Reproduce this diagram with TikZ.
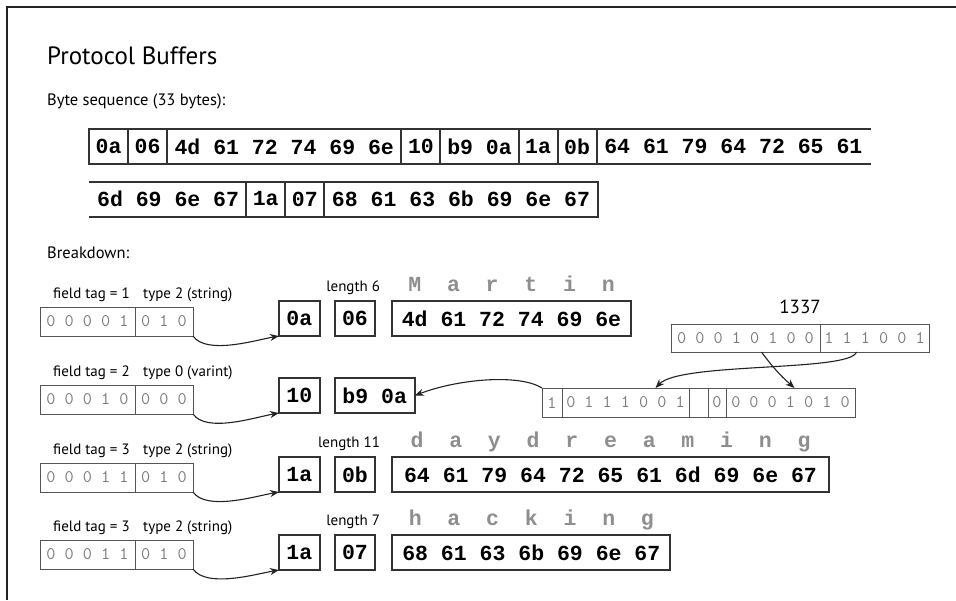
\documentclass[tikz,border=0pt]{standalone}
\usepackage{fontspec}
\setmainfont{PT Sans}
\newfontfamily\hexfamily{Liberation Mono}
\usetikzlibrary{arrows.meta,positioning}

\definecolor{framegray}{HTML}{222222}
\definecolor{boxgray}{HTML}{333333}
\definecolor{bitline}{HTML}{555555}
\definecolor{bitgray}{HTML}{7A7A7A}
\definecolor{lettergray}{HTML}{8E8E8E}

\newcommand\hexfont{\hexfamily\bfseries\fontsize{21.5}{24}\selectfont}
\newcommand\bitfont{\ttfamily\fontsize{17.7}{20}\selectfont}
\newcommand\lblfont{\fontsize{15}{18}\selectfont}

\tikzset{
  frame/.style={draw=framegray,line width=1.5pt},
  strip/.style={draw=boxgray,line width=2pt,line cap=rect},
  bytes/.style={font=\hexfont,inner sep=0pt,outer sep=0pt,minimum height=35pt,minimum width=#1*39.05pt,anchor=west},
  hexbox/.style={draw=boxgray,line width=2pt,font=\hexfont,inner sep=0pt,outer sep=0pt,minimum height=35pt,minimum width={#1*39.6pt+1pt},anchor=north west},
  bits/.style={draw=bitline,line width=.8pt,font=\bitfont,text=bitgray,inner sep=0pt,outer sep=0pt,minimum height=29pt,anchor=north west},
  caption/.style={font=\lblfont,inner sep=0pt,anchor=base west},
  letter/.style={font=\hexfont,text=lettergray,inner sep=0pt,anchor=base},
  link/.style={draw=framegray,line width=1.1pt,-{Stealth[length=9pt,width=7pt]}},
}

\begin{document}
\begin{tikzpicture}[x=1pt,y=1pt]
\useasboundingbox (0,0) rectangle (956,-600);
\draw[frame] (7,-600) |- (956,-7);

\node[caption,font=\fontsize{25}{29}\selectfont] (title) at (47,-64) {Protocol Buffers};
\node[caption,font=\fontsize{16.5}{19}\selectfont] (seqlabel) at (47,-105) {Byte sequence (33 bytes):};
\node[caption,font=\fontsize{16.5}{19}\selectfont] (breakdown) at (47,-258) {Breakdown:};

\node[bytes=1] (r1a) at (89,-146.5) {0a};
\node[bytes=1,right=0pt of r1a] (r1b) {06};
\node[bytes=6,right=0pt of r1b] (r1c) {4d 61 72 74 69 6e};
\node[bytes=1,right=0pt of r1c] (r1d) {10};
\node[bytes=2,right=0pt of r1d] (r1e) {b9 0a};
\node[bytes=1,right=0pt of r1e] (r1f) {1a};
\node[bytes=1,right=0pt of r1f] (r1g) {0b};
\node[bytes=7,right=0pt of r1g] (r1h) {64 61 79 64 72 65 61};
\draw[strip] (r1a.north west) -- (r1h.north east) (r1a.south west) -- (r1h.south east);
\foreach \n in {r1a,r1b,r1c,r1d,r1e,r1f,r1g,r1h} \draw[strip] (\n.north west) -- (\n.south west);

\node[bytes=4] (r2a) at (90,-199) {6d 69 6e 67};
\node[bytes=1,right=0pt of r2a] (r2b) {1a};
\node[bytes=1,right=0pt of r2b] (r2c) {07};
\node[bytes=7,right=0pt of r2c] (r2d) {68 61 63 6b 69 6e 67};
\draw[strip] (r2a.north west) -- (r2d.north east) -- (r2d.south east) -- (r2a.south west);
\foreach \n in {r2b,r2c,r2d} \draw[strip] (\n.north west) -- (\n.south west);

\foreach \k/\t/\f/\lo/\hi/\w in {1/307/1/0 0 0 0 1/0 1 0/2 (string),2/385/2/0 0 0 1 0/0 0 0/0 (varint),3/463/3/0 0 0 1 1/0 1 0/2 (string),4/540/3/0 0 0 1 1/0 1 0/2 (string)}{
  \node[bits,minimum width=95pt] (tagbits\k) at (40,-\t) {\lo};
  \node[bits,minimum width=58pt,right=0pt of tagbits\k] (typebits\k) {\hi};
  \node[caption] (taglabel\k) at (53,-\t+9) {field tag = \f};
  \node[caption] (typelabel\k) at (143,-\t+9) {type \w};
}

\node[hexbox=1] (tag1) at (279,-301) {0a};
\node[hexbox=1,right=15pt of tag1] (len1) {06};
\node[hexbox=6,right=17pt of len1] (val1) {4d 61 72 74 69 6e};
\node[caption,anchor=base east] (lenlabel1) at ([xshift=5pt,yshift=10pt]len1.north east) {length 6};
\foreach \c [count=\i from 0] in {M,a,r,t,i,n}
  \node[letter] (name-\i) at ([xshift={(\i-2.5)*38.7pt},yshift=10pt]val1.north) {\c};

\node[hexbox=1] (tag2) at (279,-378) {10};
\node[hexbox=2,right=15pt of tag2] (val2) {b9 0a};

\node[hexbox=1] (tag3) at (279,-457) {1a};
\node[hexbox=1,right=15pt of tag3] (len3) {0b};
\node[hexbox=11,right=17pt of len3] (val3) {64 61 79 64 72 65 61 6d 69 6e 67};
\node[caption,anchor=base east] (lenlabel3) at ([xshift=5pt,yshift=10pt]len3.north east) {length 11};
\foreach \c [count=\i from 0] in {d,a,y,d,r,e,a,m,i,n,g}
  \node[letter] (interest-a-\i) at ([xshift={(\i-5)*38.7pt},yshift=10pt]val3.north) {\c};

\node[hexbox=1] (tag4) at (279,-535) {1a};
\node[hexbox=1,right=15pt of tag4] (len4) {07};
\node[hexbox=7,right=17pt of len4] (val4) {68 61 63 6b 69 6e 67};
\node[caption,anchor=base east] (lenlabel4) at ([xshift=5pt,yshift=10pt]len4.north east) {length 7};
\foreach \c [count=\i from 0] in {h,a,c,k,i,n,g}
  \node[letter] (interest-b-\i) at ([xshift={(\i-3)*38.7pt},yshift=10pt]val4.north) {\c};

\foreach \k in {1,...,4}
  \draw[link] (typebits\k.south east) to[out=-55,in=190,looseness=.7] (tag\k.south west);

\node[bits,minimum width=149pt,minimum height=28pt] (hi1) at (671,-324) {0 0 0 1 0 1 0 0};
\node[bits,minimum width=109pt,minimum height=28pt,right=0pt of hi1] (hi2) {1 1 1 0 0 1};
\node[font=\fontsize{19}{21}\selectfont,inner sep=0pt,anchor=base] (number) at (800,-313) {1337};

\node[bits,minimum width=20pt] (lo1) at (542,-388) {1};
\node[bits,minimum width=127pt,right=0pt of lo1] (lo2) {0 1 1 1 0 0 1};
\node[bits,minimum width=19pt,right=0pt of lo2] (lo3) {};
\node[bits,minimum width=18pt,right=0pt of lo3] (lo4) {0};
\node[bits,minimum width=129pt,right=0pt of lo4] (lo5) {0 0 0 1 0 1 0};

\draw[link] ([xshift=-18pt]hi2.south) .. controls +(-6,-20) and +(25,26) .. ([xshift=30pt]lo2.north);
\draw[link] ([xshift=16pt]hi1.south) to[bend right=6] ([xshift=4pt]lo5.north);
\draw[link] (lo1.north west) .. controls +(-22,14) and +(45,17) .. (val2.east);
\end{tikzpicture}
\end{document}
